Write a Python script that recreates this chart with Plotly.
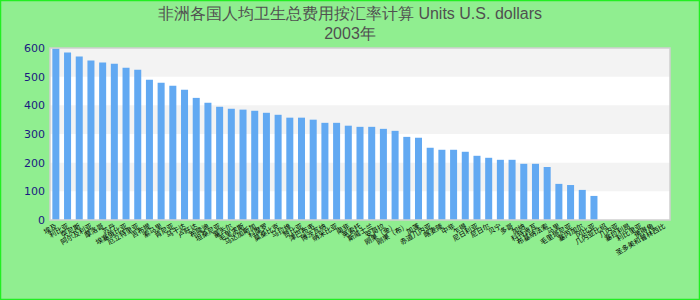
import plotly.graph_objects as go

categories = ["埃及", "利比亚", "突尼斯", "阿尔及利亚", "摩洛哥", "苏丹", "埃塞俄比亚", "厄立特里亚",
              "吉布提", "索马里", "肯尼亚", "乌干达", "卢旺达", "布隆迪", "坦桑尼亚", "塞舌尔",
              "毛里求斯", "马达加斯加", "科摩罗", "莫桑比克", "马拉维", "赞比亚", "津巴布韦", "博茨瓦纳",
              "纳米比亚", "南非", "莱索托", "斯威士兰", "安哥拉", "刚果（金）", "刚果（布）", "加蓬",
              "赤道几内亚", "喀麦隆", "中非", "乍得", "尼日利亚", "尼日尔", "贝宁", "多哥",
              "加纳", "科特迪瓦", "布基纳法索", "马里", "毛里塔尼亚", "塞内加尔", "冈比亚", "几内亚比绍",
              "几内亚", "塞拉利昂", "利比里亚", "佛得角", "圣多美和普林西比"]

values = [598, 584, 570, 556, 549, 545, 531, 524, 489, 479, 468, 454, 426, 409, 395, 388,
          385, 381, 374, 367, 357, 357, 350, 339, 339, 329, 325, 325, 318, 311, 290, 287,
          252, 245, 245, 238, 224, 217, 210, 210, 196, 196, 185, 126, 122, 105, 84,
          None, None, None, None, None, None]

title_text = "非洲各国人均卫生总费用按汇率计算 Units U.S. dollars<br>2003年"
y_ticks = [0, 100, 200, 300, 400, 500, 600]

W, H = 700, 300
ml, mr, mt, mb = 50, 30, 48, 80

fig = go.Figure(go.Bar(
    x=categories, y=values,
    marker=dict(color="#62a9f2", line=dict(width=0)),
))

shapes = []
# alternating horizontal bands
for i in range(len(y_ticks) - 1):
    if (len(y_ticks) - 2 - i) % 2 == 0:
        shapes.append(dict(type="rect", xref="paper", yref="y", x0=0, x1=1,
                           y0=y_ticks[i], y1=y_ticks[i + 1],
                           fillcolor="#f3f3f3", line=dict(width=0), layer="below"))
# plot border
shapes.append(dict(type="rect", xref="paper", yref="paper", x0=0, x1=1, y0=0, y1=1,
                   line=dict(color="#d0d0d0", width=1.5), layer="above"))
# figure border
pw, ph = W - ml - mr, H - mt - mb
shapes.append(dict(type="rect", xref="paper", yref="paper",
                   x0=-ml / pw + 0.5 / pw, x1=(W - ml - 0.5) / pw,
                   y0=-mb / ph + 0.5 / ph, y1=(H - mb - 0.5) / ph,
                   line=dict(color="#22ee22", width=1.5), layer="below"))

fig.update_layout(
    width=W, height=H,
    margin=dict(l=ml, r=mr, t=mt, b=mb),
    paper_bgcolor="#90ee90",
    plot_bgcolor="#ffffff",
    title=dict(text=title_text, x=0.5, xanchor="center", y=0.938, yanchor="top",
               font=dict(family="Liberation Sans, Arial, sans-serif", size=16, color="#505050")),
    bargap=0.4,
    showlegend=False,
    shapes=shapes,
    xaxis=dict(tickangle=-30, tickfont=dict(size=7, color="#000000", family="Noto Sans CJK SC"),
               showgrid=False, showline=False, ticks="", range=[-0.5, len(categories) - 0.5]),
    yaxis=dict(range=[0, 600], tickvals=y_ticks, showgrid=False, zeroline=False,
               tickfont=dict(size=11, color="#1a1a80", family="DejaVu Sans"), ticks="",
               ticklabelstandoff=4),
)

fig.write_html("out.html")
